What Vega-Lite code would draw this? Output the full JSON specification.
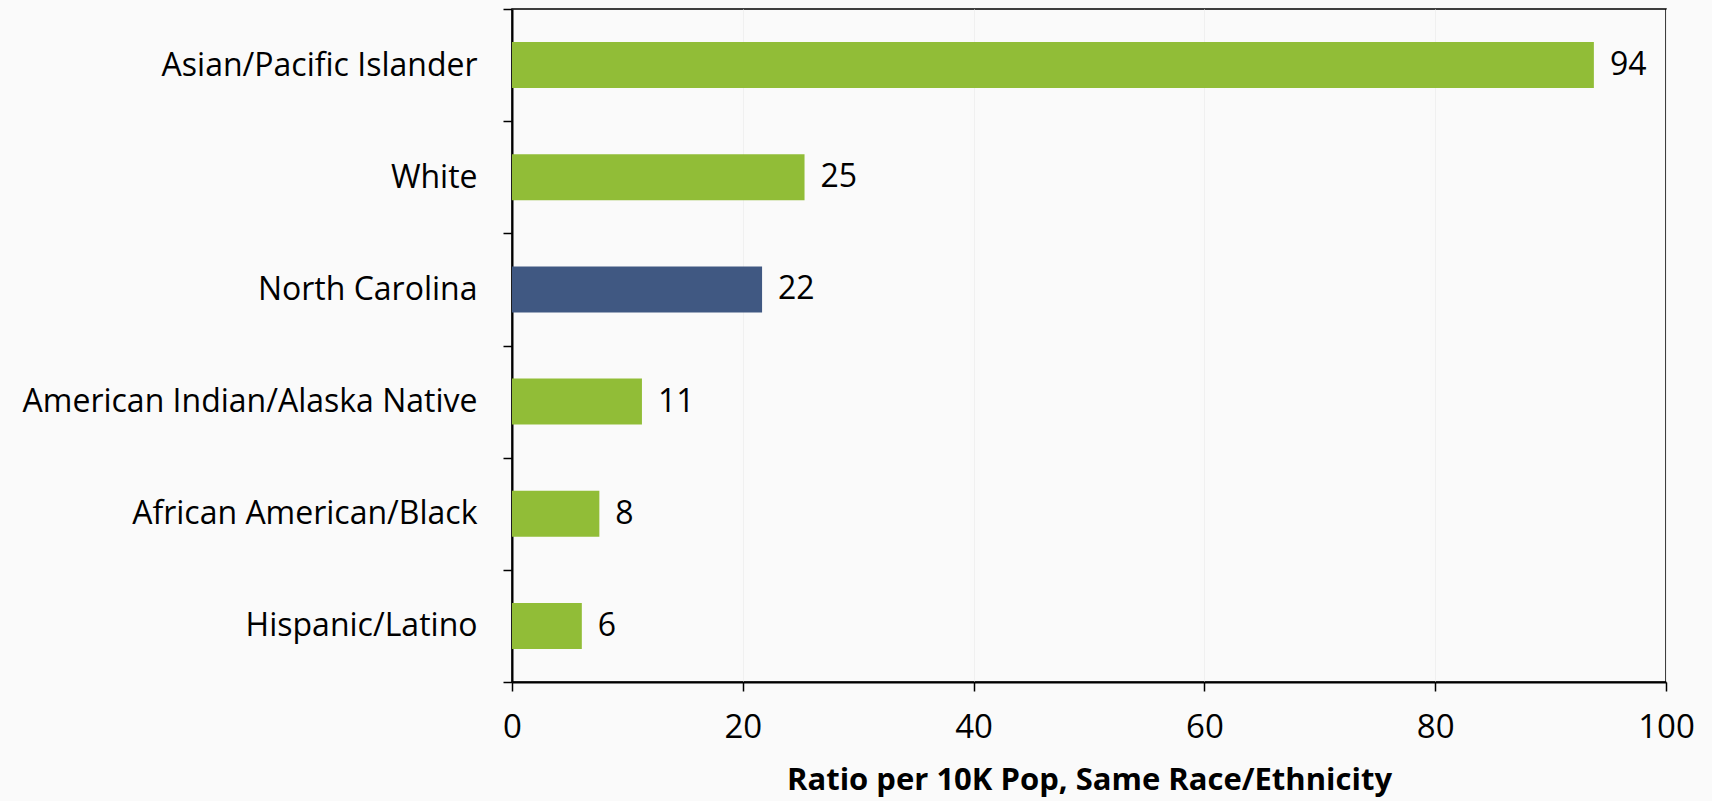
{
  "$schema": "https://vega.github.io/schema/vega-lite/v6.json",
  "autosize": {"type": "none"},
  "width": 1154,
  "height": 673,
  "padding": {"left": 512, "top": 9, "right": 46, "bottom": 119},
  "background": "#fafafa",
  "config": {
    "font": "Open Sans",
    "view": {"stroke": "#000000", "strokeWidth": 1.5}
  },
  "data": {
    "values": [
      {"group": "Asian/Pacific Islander", "value": 93.75, "label": "94", "type": "group"},
      {"group": "White", "value": 25.35, "label": "25", "type": "group"},
      {"group": "North Carolina", "value": 21.67, "label": "22", "type": "state"},
      {"group": "American Indian/Alaska Native", "value": 11.26, "label": "11", "type": "group"},
      {"group": "African American/Black", "value": 7.57, "label": "8", "type": "group"},
      {"group": "Hispanic/Latino", "value": 6.05, "label": "6", "type": "group"}
    ]
  },
  "encoding": {
    "y": {
      "field": "group",
      "type": "nominal",
      "sort": null,
      "scale": {"paddingInner": 0, "paddingOuter": 0},
      "axis": {
        "title": null,
        "tickBand": "extent",
        "domainColor": "#000000",
        "domainWidth": 2,
        "tickColor": "#000000",
        "tickWidth": 1.5,
        "tickSize": 9,
        "labelFontSize": 32,
        "labelColor": "#000000",
        "labelPadding": 26,
        "labelLimit": 0
      }
    }
  },
  "layer": [
    {
      "mark": {"type": "bar", "height": {"band": 0.41}},
      "encoding": {
        "x": {
          "field": "value",
          "type": "quantitative",
          "scale": {"domain": [0, 100], "nice": false},
          "axis": {
            "values": [0, 20, 40, 60, 80, 100],
            "labelFlush": false,
            "title": "Ratio per 10K Pop, Same Race/Ethnicity",
            "titleFontSize": 31,
            "titleFontWeight": "bold",
            "titleColor": "#000000",
            "titlePadding": 21,
            "domainColor": "#000000",
            "domainWidth": 2,
            "tickColor": "#000000",
            "tickWidth": 1.5,
            "tickSize": 9,
            "labelFontSize": 33,
            "labelColor": "#000000",
            "labelPadding": 20,
            "grid": true,
            "gridColor": "#f0f0f0",
            "gridWidth": 1
          }
        },
        "color": {
          "field": "type",
          "type": "nominal",
          "scale": {"domain": ["group", "state"], "range": ["#91bd37", "#405882"]},
          "legend": null
        }
      }
    },
    {
      "mark": {"type": "text", "align": "left", "baseline": "middle", "dx": 16, "fontSize": 32, "color": "#000000"},
      "encoding": {
        "x": {"field": "value", "type": "quantitative"},
        "text": {"field": "label"}
      }
    }
  ]
}
